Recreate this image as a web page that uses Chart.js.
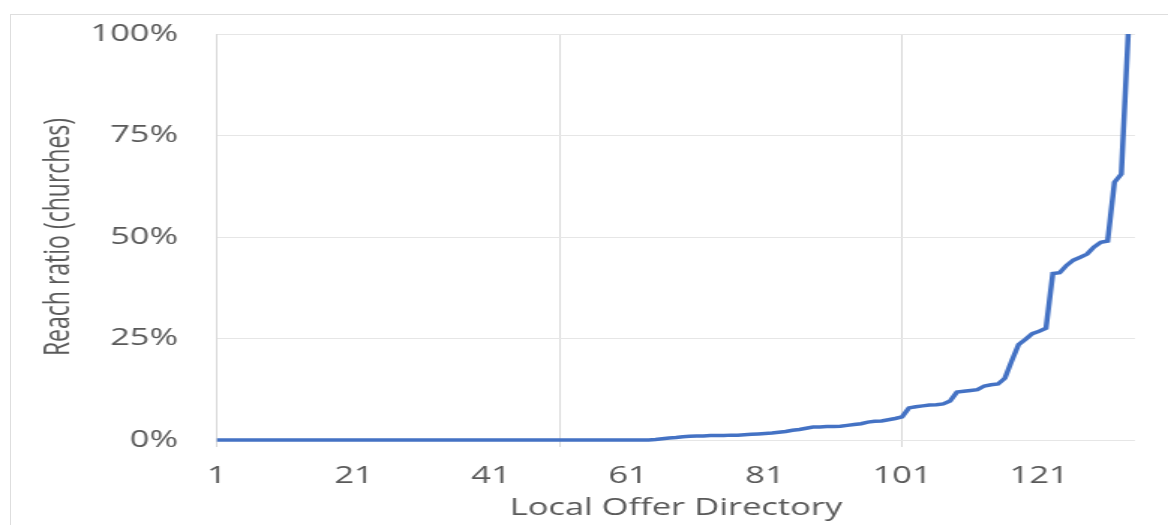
<!DOCTYPE html>
<html>
<head>
<meta charset="utf-8">
<title>Reach ratio by Local Offer Directory</title>
<script src="https://cdn.jsdelivr.net/npm/chart.js@4.4.1/dist/chart.umd.min.js"></script>
<style>
  html, body { margin: 0; padding: 0; background: #fff; overflow: hidden; }
  .frame {
    position: absolute; left: 10px; top: 14px; width: 1200px; height: 560px;
    border: 1px solid #dedede;
  }
  #reachChart { position: absolute; left: 0; top: 0; }
</style>
</head>
<body>
<div class="frame"></div>
<!-- drawn 779px wide and widened to 1168px by its inline style, which gives the wide lettering -->
<canvas id="reachChart" width="779" height="525" style="width:1168px;height:525px"></canvas>
<script>
  // Reach ratio (%) per directory, in rank order 1..134
  const reachRatio = [
    0, 0, 0, 0, 0, 0, 0, 0, 0, 0,
    0, 0, 0, 0, 0, 0, 0, 0, 0, 0,
    0, 0, 0, 0, 0, 0, 0, 0, 0, 0,
    0, 0, 0, 0, 0, 0, 0, 0, 0, 0,
    0, 0, 0, 0, 0, 0, 0, 0, 0, 0,
    0, 0, 0, 0, 0, 0, 0, 0, 0, 0,
    0, 0, 0, 0,
    0.1, 0.3, 0.5, 0.6, 0.8, 0.9, 1.0, 1.0, 1.1, 1.1,
    1.1, 1.2, 1.2, 1.3, 1.4, 1.5, 1.6, 1.7, 1.9, 2.1,
    2.4, 2.6, 2.9, 3.2, 3.2, 3.3, 3.3, 3.4, 3.6, 3.8,
    4.0, 4.4, 4.6, 4.7, 5.0, 5.3, 5.7, 7.9, 8.2, 8.4,
    8.6, 8.7, 8.9, 9.6, 11.8, 12.0, 12.2, 12.4, 13.3, 13.6,
    13.8, 15.2, 19.5, 23.5, 24.8, 26.2, 26.8, 27.5, 41.0, 41.2,
    43.0, 44.3, 45.0, 45.8, 47.5, 48.7, 49.0, 63.5, 65.5, 100
  ];

  const xTickLabels = [1, 21, 41, 61, 81, 101, 121];
  const xGridLines = [1, 51, 101];
  const yTickLabels = [0, 25, 50, 75, 100];

  const textColor = '#595959';
  const fontFamily = '"Open Sans", "DejaVu Sans", sans-serif';

  (function () {
    const canvas = document.getElementById('reachChart');
    if (!canvas || typeof Chart === 'undefined') return;

    const points = reachRatio.map((v, i) => ({ x: i + 1, y: v }));
    const xTickValues = Array.from(new Set([...xTickLabels, ...xGridLines])).sort((a, b) => a - b);

    new Chart(canvas.getContext('2d'), {
      type: 'line',
      data: {
        datasets: [{
          label: 'Reach ratio',
          data: points,
          borderColor: '#4472C4',
          borderWidth: 3.5,
          pointRadius: 0,
          tension: 0,
          fill: false,
          clip: 4
        }]
      },
      options: {
        responsive: false,
        devicePixelRatio: 1,
        animation: false,
        layout: { autoPadding: false, padding: { left: 0, right: 22, top: 34, bottom: 0 } },
        plugins: {
          legend: { display: false },
          tooltip: { enabled: false }
        },
        scales: {
          x: {
            type: 'linear',
            min: 1,
            max: 135,
            border: { display: false },
            afterBuildTicks: (scale) => {
              scale.ticks = xTickValues.map((v) => ({ value: v }));
            },
            afterFit: (scale) => { scale.height = 85; },
            grid: {
              color: (ctx) => (ctx.tick && xGridLines.includes(ctx.tick.value)) ? '#d9d9d9' : 'rgba(0,0,0,0)',
              lineWidth: 1,
              drawTicks: true,
              tickLength: 7
            },
            ticks: {
              autoSkip: false,
              maxRotation: 0,
              padding: 16,
              color: textColor,
              font: { family: fontFamily, size: 23 },
              callback: (val) => xTickLabels.includes(val) ? String(val) : ''
            },
            title: {
              display: true,
              text: 'Local Offer Directory',
              color: textColor,
              font: { family: fontFamily, size: 23 },
              padding: { top: 0, bottom: 3 }
            }
          },
          y: {
            min: 0,
            max: 100,
            border: { display: false },
            afterBuildTicks: (scale) => {
              scale.ticks = yTickLabels.map((v) => ({ value: v }));
            },
            afterFit: (scale) => {
              scale.width = 144.7;
              scale.paddingTop = 0;
              scale.paddingBottom = 0;
            },
            grid: { color: '#e6e6e6', lineWidth: 1, drawTicks: false },
            ticks: {
              padding: 26,
              color: textColor,
              font: { family: fontFamily, size: 23 },
              callback: (val) => val + '%'
            },
            title: {
              display: true,
              text: 'Reach ratio (churches)',
              color: textColor,
              font: { family: fontFamily, size: 23 },
              padding: { top: 26, bottom: 0 }
            }
          }
        }
      }
    });
  })();
</script>
</body>
</html>
